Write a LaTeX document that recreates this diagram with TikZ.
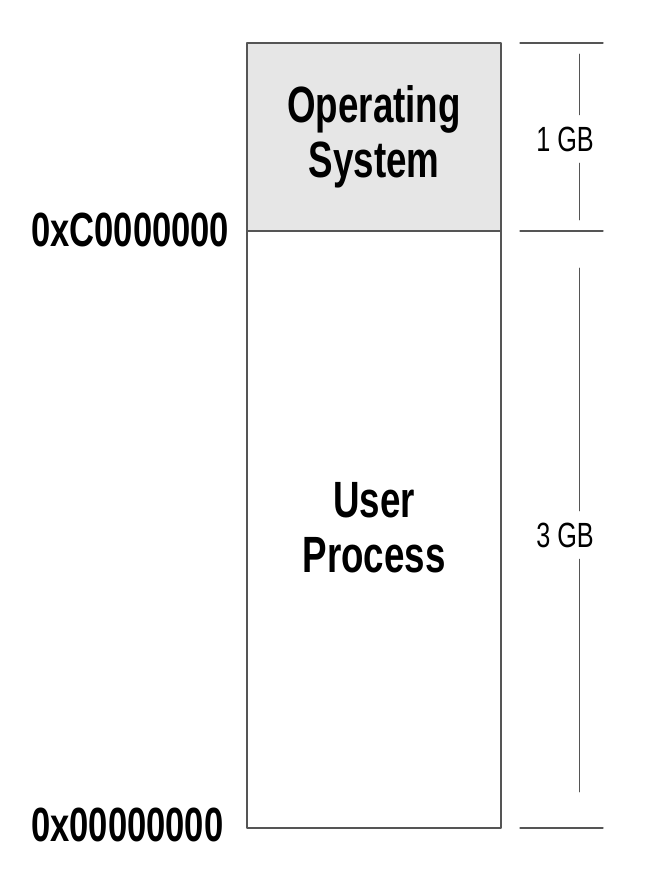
\documentclass[tikz,border=0pt]{standalone}
\usepackage{fontspec}
\setmainfont{Liberation Sans}
\newfontfamily\narrowfont[FakeStretch=0.72]{Liberation Sans}
\usepackage{tikz}
\usetikzlibrary{calc}
\definecolor{osgray}{RGB}{230,230,230}
\definecolor{linegray}{RGB}{85,85,85}
\tikzset{
	boxline/.style={draw=linegray,line width=1.4pt},
	tickline/.style={draw=linegray,line width=1.3pt},
	spanline/.style={draw=linegray,line width=0.9pt},
	boxtext/.style={align=center,inner sep=0pt,font=\narrowfont\bfseries\fontsize{51}{55}\selectfont},
	addr/.style={anchor=west,inner sep=0pt,font=\narrowfont\bfseries\fontsize{48}{50}\selectfont},
	gbsize/.style={fill=white,inner sep=0pt,minimum height=48pt,font=\narrowfont\fontsize{35}{38}\selectfont}
}
\begin{document}
\begin{tikzpicture}[line cap=round,line join=round,x=1pt,y=-1pt]
		\useasboundingbox (0,0) rectangle (646,882);
		\coordinate (top) at (247,43);
		\coordinate (mid) at (501,231);
		\coordinate (bot) at (501,828);
		\draw[boxline,fill=osgray] (top) rectangle (mid);
		\draw[boxline] (top |- mid) rectangle (bot);
		\node[boxtext] (os) at (374,137) {Operating\\System};
		\node[boxtext] (user) at (374,528) {User\\Process};
		\node[addr] (high) at (31,230) {0xC0000000};
		\node[addr] (low) at (31,825) {0x00000000};
		% ticks on the right
		\draw[tickline] (520,43) -- (603,43);
		\draw[tickline] (520,231) -- (603,231);
		\draw[tickline] (520,828) -- (603,828);
		% sizes
		\coordinate (a1) at (579,54);
		\coordinate (a2) at (579,220);
		\coordinate (b1) at (579,268);
		\coordinate (b2) at (579,792);
		\node[gbsize] (onegb) at (565,139) {1 GB};
		\node[gbsize] (threegb) at (565,535) {3 GB};
		\draw[spanline] (a1) -- (a1 |- onegb.north);
		\draw[spanline] (a1 |- onegb.south) -- (a2);
		\draw[spanline] (b1) -- (b1 |- threegb.north);
		\draw[spanline] (b1 |- threegb.south) -- (b2);
\end{tikzpicture}
\end{document}
